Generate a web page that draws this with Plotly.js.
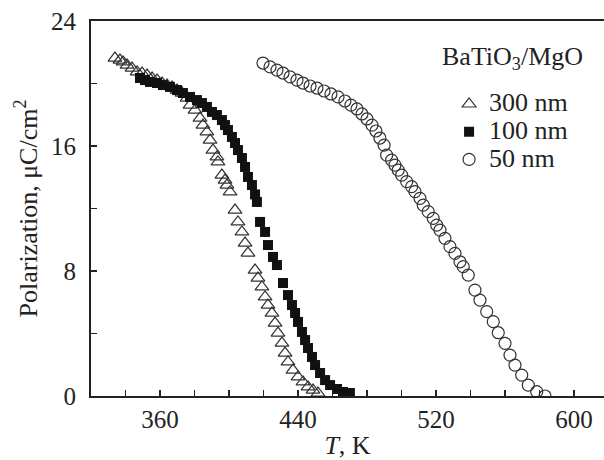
<!DOCTYPE html>
<html>
<head>
<meta charset="utf-8">
<script src="https://cdn.plot.ly/plotly-3.0.1.min.js"></script>
<style>html,body{margin:0;padding:0;background:#fff;}#chart{width:604px;height:460px;}</style>
</head>
<body>
<div id="chart"></div>
<script>
// 300 nm (open triangles)
const t300 = [333.9,336.8,338.6,340.9,343.8,346.7,349.6,352.5,355.4,358.3,361.2,364.1,367.0,369.9,372.8,375.7,377.4,380.3,383.2,384.9,387.2,389.0,390.7,393.0,393.6,395.9,397.7,398.8,400.6,403.5,405.2,407.5,409.3,411.0,415.1,416.8,419.1,420.9,422.6,424.9,426.7,428.4,430.7,432.5,434.2,437.1,440.0,442.9,445.8,448.7,451.6];
const p300 = [21.63,21.5,21.38,21.18,20.99,20.74,20.67,20.54,20.35,20.22,20.03,19.9,19.78,19.58,19.39,19.07,18.62,18.3,17.79,17.34,16.9,16.38,15.74,15.3,14.98,14.14,13.82,13.5,13.06,11.9,11.14,10.5,9.79,9.15,8.06,7.55,6.98,6.34,5.82,5.31,4.67,4.03,3.39,2.75,2.18,1.66,1.22,0.9,0.58,0.38,0.19];

// 100 nm (filled squares)
const t100 = [348.4,351.3,354.2,358.3,361.7,365.8,369.9,373.3,377.4,381.4,384.3,387.2,390.1,393.0,395.9,397.7,399.4,401.7,403.5,405.2,407.5,409.3,411.0,413.3,415.1,416.2,418.0,420.9,422.6,425.5,427.8,431.3,434.2,436.5,438.3,440.0,442.3,444.1,445.8,448.1,449.9,452.8,455.7,458.6,462.6,466.1,470.1];
const p100 = [20.35,20.22,20.1,20.03,19.9,19.78,19.58,19.39,19.14,18.94,18.75,18.5,18.18,17.98,17.66,17.34,17.02,16.58,16.19,15.74,15.23,14.66,14.02,13.5,12.9,12.42,11.14,10.5,9.66,8.9,8.38,7.23,6.46,5.82,5.31,4.74,4.1,3.58,3.07,2.5,1.98,1.47,1.02,0.7,0.45,0.26,0.19];

// 50 nm (open circles)
const t50 = [419.7,423.8,427.8,431.3,435.4,439.4,442.9,447.0,451.0,455.1,459.1,463.2,467.2,470.7,474.2,477.1,480.0,482.9,485.2,487.5,489.9,491.4,494.3,496.2,498.1,500.1,503.0,505.9,507.8,510.7,512.6,515.5,518.4,520.4,522.3,525.2,528.1,531.0,533.9,535.8,538.7,542.6,545.5,549.4,553.2,556.1,560.0,562.9,565.8,569.7,573.5,578.4,583.2];
const p50 = [21.31,21.06,20.86,20.67,20.42,20.22,20.03,19.84,19.71,19.52,19.33,19.14,18.88,18.62,18.37,18.05,17.73,17.34,16.96,16.51,16.06,15.42,15.1,14.78,14.46,14.14,13.72,13.4,13.08,12.65,12.22,11.8,11.37,10.94,10.62,10.09,9.56,9.13,8.59,8.28,7.74,6.78,6.14,5.4,4.76,4.05,3.37,2.62,1.98,1.34,0.7,0.28,0.0];

const seriesNames = ['300 nm','100 nm','50 nm'];
const legendTitle = 'BaTiO<sub>3</sub>/MgO';
const xTitle = '<i>T</i>, K';
const yTitle = 'Polarization, μC/cm<sup>2</sup>';

const FONT = 'Liberation Serif, Times New Roman, serif';
const big = s => '<span style="font-size:26px">' + s + '</span>';

const traces = [
  {x:t300, y:p300, name:big(seriesNames[0]), type:'scatter', mode:'markers',
   marker:{symbol:'triangle-up-open', size:12, color:'#333', line:{width:1.2, color:'#333'}}},
  {x:t100, y:p100, name:big(seriesNames[1]), type:'scatter', mode:'markers',
   marker:{symbol:'square', size:10, color:'#111', line:{width:0}}},
  {x:t50, y:p50, name:big(seriesNames[2]), type:'scatter', mode:'markers',
   marker:{symbol:'circle-open', size:12, color:'#333', line:{width:1.2, color:'#333'}}}
];

const layout = {
  width:604, height:460,
  margin:{l:91, r:0, t:21, b:64},
  paper_bgcolor:'#fff', plot_bgcolor:'#fff',
  font:{family:FONT, size:25, color:'#222'},
  showlegend:true,
  legend:{x:0.698, y:0.829, xanchor:'left', yanchor:'top', bgcolor:'rgba(0,0,0,0)',
          font:{family:FONT, size:19, color:'#222'}, tracegroupgap:0, itemwidth:30},
  xaxis:{range:[320,617.4], tick0:360, dtick:80, ticks:'inside', ticklen:6, tickwidth:1.2, tickcolor:'#222',
         minor:{dtick:20, tick0:360, ticks:'inside', ticklen:6, tickwidth:1.2, tickcolor:'#222'},
         showline:true, linewidth:2, linecolor:'#222', mirror:true, showgrid:false, zeroline:false,
         ticklabelstandoff:0,
         tickfont:{family:FONT, size:25, color:'#222'},
         title:{text:xTitle, font:{family:FONT, size:26, color:'#222'}, standoff:6}},
  yaxis:{range:[0,24], tick0:0, dtick:8, ticks:'inside', ticklen:6, tickwidth:1.2, tickcolor:'#222',
         minor:{dtick:4, tick0:0, ticks:'inside', ticklen:6, tickwidth:1.2, tickcolor:'#222'},
         showline:true, linewidth:2, linecolor:'#222', showgrid:false, zeroline:false,
         ticklabelstandoff:8,
         tickfont:{family:FONT, size:25, color:'#222'},
         title:{text:yTitle, font:{family:FONT, size:26, color:'#222'}, standoff:6}},
  annotations:[
    {text:legendTitle, xref:'paper', yref:'paper', x:(440-91)/513, y:(396-58)/375, xanchor:'left', yanchor:'middle',
     showarrow:false, font:{family:FONT, size:26, color:'#222'}}
  ]
};

Plotly.newPlot('chart', traces, layout, {displayModeBar:false, staticPlot:true});
</script>
</body>
</html>
